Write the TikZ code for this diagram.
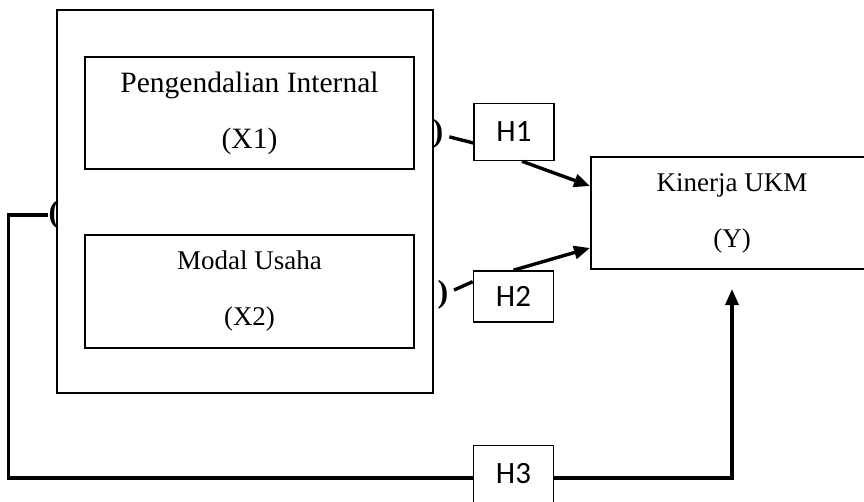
\documentclass[tikz,border=0pt]{standalone}
\usepackage{fontspec}
\setmainfont{Liberation Serif}
\newfontfamily\hfont{Carlito}
\usetikzlibrary{arrows.meta,positioning,calc}

\begin{document}
\begin{tikzpicture}[
  x=1pt,y=-1pt,>={Triangle[length=16pt,width=13pt]},
  varbox/.style={draw, line width=2pt, align=center, font=\fontsize{27}{56}\selectfont},
  hypbox/.style={draw, line width=1.6pt, minimum width=80pt, minimum height=57pt, font=\hfont\fontsize{31}{36}\selectfont},
  parstyle/.style={inner sep=0pt, font=\bfseries\fontsize{32}{34}\selectfont},
  conn/.style={line width=3.4pt},
]
\useasboundingbox (0,0) rectangle (864,501);
\clip (0,0) rectangle (864,501);

% --- independent variables inside one frame ---
\node[draw, line width=2pt, minimum width=376pt, minimum height=383pt] (outer) at (245,201.5) {};
\node[varbox, minimum width=329pt, minimum height=112pt, font=\fontsize{29.5}{56}\selectfont] (x1) at (249.5,113) {Pengendalian Internal\\(X1)};
\node[varbox, minimum width=329pt, minimum height=113pt] (x2) at (249.5,291.5) {Modal Usaha\\(X2)};

% --- dependent variable ---
\node[varbox, minimum width=282pt, minimum height=112pt] (kin) at (732,213) {Kinerja UKM\\(Y)};

% --- hypothesis labels ---
\node[hypbox] (h1) at (514,132) {H1};
\node[hypbox, minimum height=51pt] (h2) at (513.5,296.5) {H2};
\node[hypbox] (h3) at (513.5,474) {H3};

% brackets on the frame
\node[parstyle] (rp1) at (438,134) {)};
\node[parstyle] (rp2) at (443,295) {)};
\node[parstyle] (lpar) at (54,215) {(};

% --- partial effects ---
\draw[conn, shorten <=6pt] (rp1) -- (h1.195);
\draw[conn, ->] ([xshift=8pt]h1.south) -- ([yshift=27pt]kin.west);
\draw[conn, shorten <=6pt] (rp2) -- (h2.160);
\draw[conn, ->] (h2.north) -- ([yshift=-35pt]kin.west);

% --- simultaneous effect ---
\coordinate (yend) at ([yshift=-19pt]kin.south);
\draw[conn] (lpar.west) -- ++(-40,0) |- ([yshift=-4pt]h3.west);
\draw[conn, ->] ([yshift=-4pt]h3.east) -| (yend);

\end{tikzpicture}
\end{document}
